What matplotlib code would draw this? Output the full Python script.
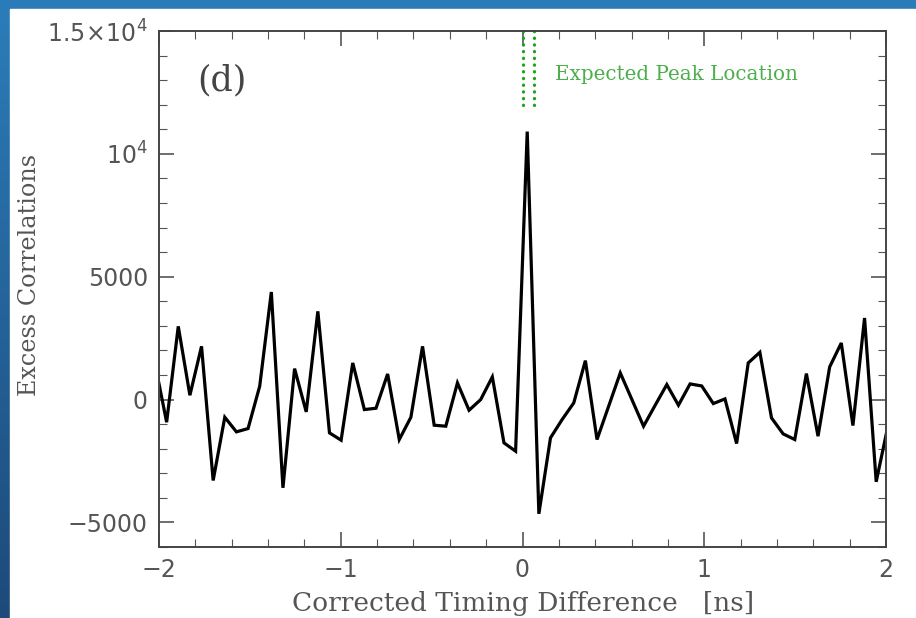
import numpy as np
import matplotlib
matplotlib.use('Agg')
import matplotlib.pyplot as plt
from matplotlib.patches import Rectangle
from matplotlib.ticker import FixedLocator, MultipleLocator

# bin centres [ns]: first bin centre and bin width
x_start = -2.022
x_step = 0.064
excess = [1460, -921, 2980, 176, 2167, -3293, -718, -1314, -1179, 542,
          4378, -3591, 1260, -501, 3591, -1355, -1653, 1491, -407, -352,
          1043, -1626, -718, 2167, -1043, -1084, 677, -434, 0, 921,
          -1762, -2100, 10906, -4650, -1558, -813, -136, 1585, -1626, -271,
          1084, 0, -1084, -230, 610, -230, 637, 555, -163, 27,
          -1789, 1491, 1924, -745, -1396, -1626, 1057, -1490, 1328, 2304,
          -1057, 3320, -3346, -1100]
timing = x_start + x_step * np.arange(len(excess))

peak_marks = [0.0, 0.066]
ytick_vals = [-5000, 0, 5000, 10000, 15000]
ytick_labels = ['\u22125000', '0', '5000', r'$10^4$', r'$1.5\!\times\!10^4$']
xtick_vals = [-2, -1, 0, 1, 2]
xtick_labels = ['\u22122', '\u22121', '0', '1', '2']

fig = plt.figure(figsize=(9.16, 6.18), dpi=100)

# blue frame with a gradient, white page on top
bg = fig.add_axes([0, 0, 1, 1], zorder=-10)
grad = np.linspace(0, 1, 256).reshape(-1, 1)
cmap = matplotlib.colors.LinearSegmentedColormap.from_list('bl', ['#2b7dba', '#1d4a7a'])
bg.imshow(grad, aspect='auto', cmap=cmap, extent=[0, 1, 0, 1], origin='upper')
bg.add_patch(Rectangle((10 / 916, 0), 1, 1 - 9 / 618, color='white'))
bg.set_xlim(0, 1)
bg.set_ylim(0, 1)
bg.axis('off')

ax = fig.add_axes([159 / 916, 1 - 547 / 618, 727 / 916, 516 / 618])
ax.plot(timing, excess, color='black', lw=2.3, solid_joinstyle='miter')
for xm in peak_marks:
    ax.plot([xm, xm], [12000, 15000], color='#1fa31f', lw=2.3, ls=(0, (0.1, 2.0)),
            dash_capstyle='round', clip_on=False)
ax.text(0.179, 13250, 'Expected Peak Location', color='#4caf4c', fontsize=14.3,
        family='DejaVu Serif', va='center', ha='left')
ax.text(-1.79, 13000, '(d)', color='#444444', fontsize=25, family='DejaVu Serif',
        va='center', ha='left')

ax.set_xlim(-2, 2)
ax.set_ylim(-6000, 15000)
ax.xaxis.set_major_locator(FixedLocator(xtick_vals))
ax.set_xticklabels(xtick_labels)
ax.xaxis.set_minor_locator(MultipleLocator(0.2))
ax.yaxis.set_major_locator(FixedLocator(ytick_vals))
ax.set_yticklabels(ytick_labels)
ax.yaxis.set_minor_locator(MultipleLocator(1000))
ax.tick_params(which='both', direction='in', top=True, right=True, color='#555555')
ax.tick_params(which='major', length=11, width=1.2, labelsize=17, labelcolor='#555555', pad=8)
ax.tick_params(which='minor', length=5.5, width=0.8)
for s in ax.spines.values():
    s.set_color('#444444')
    s.set_linewidth(1.4)

fig.text(30 / 916, 1 - 275 / 618, 'Excess Correlations', rotation=90, fontsize=17.2,
         family='DejaVu Serif', color='#555555', ha='center', va='center')
fig.text(523 / 916, 1 - 603 / 618, 'Corrected Timing Difference   [ns]', fontsize=19,
         family='DejaVu Serif', color='#555555', ha='center', va='center')

fig.savefig('out.png', dpi=100)
